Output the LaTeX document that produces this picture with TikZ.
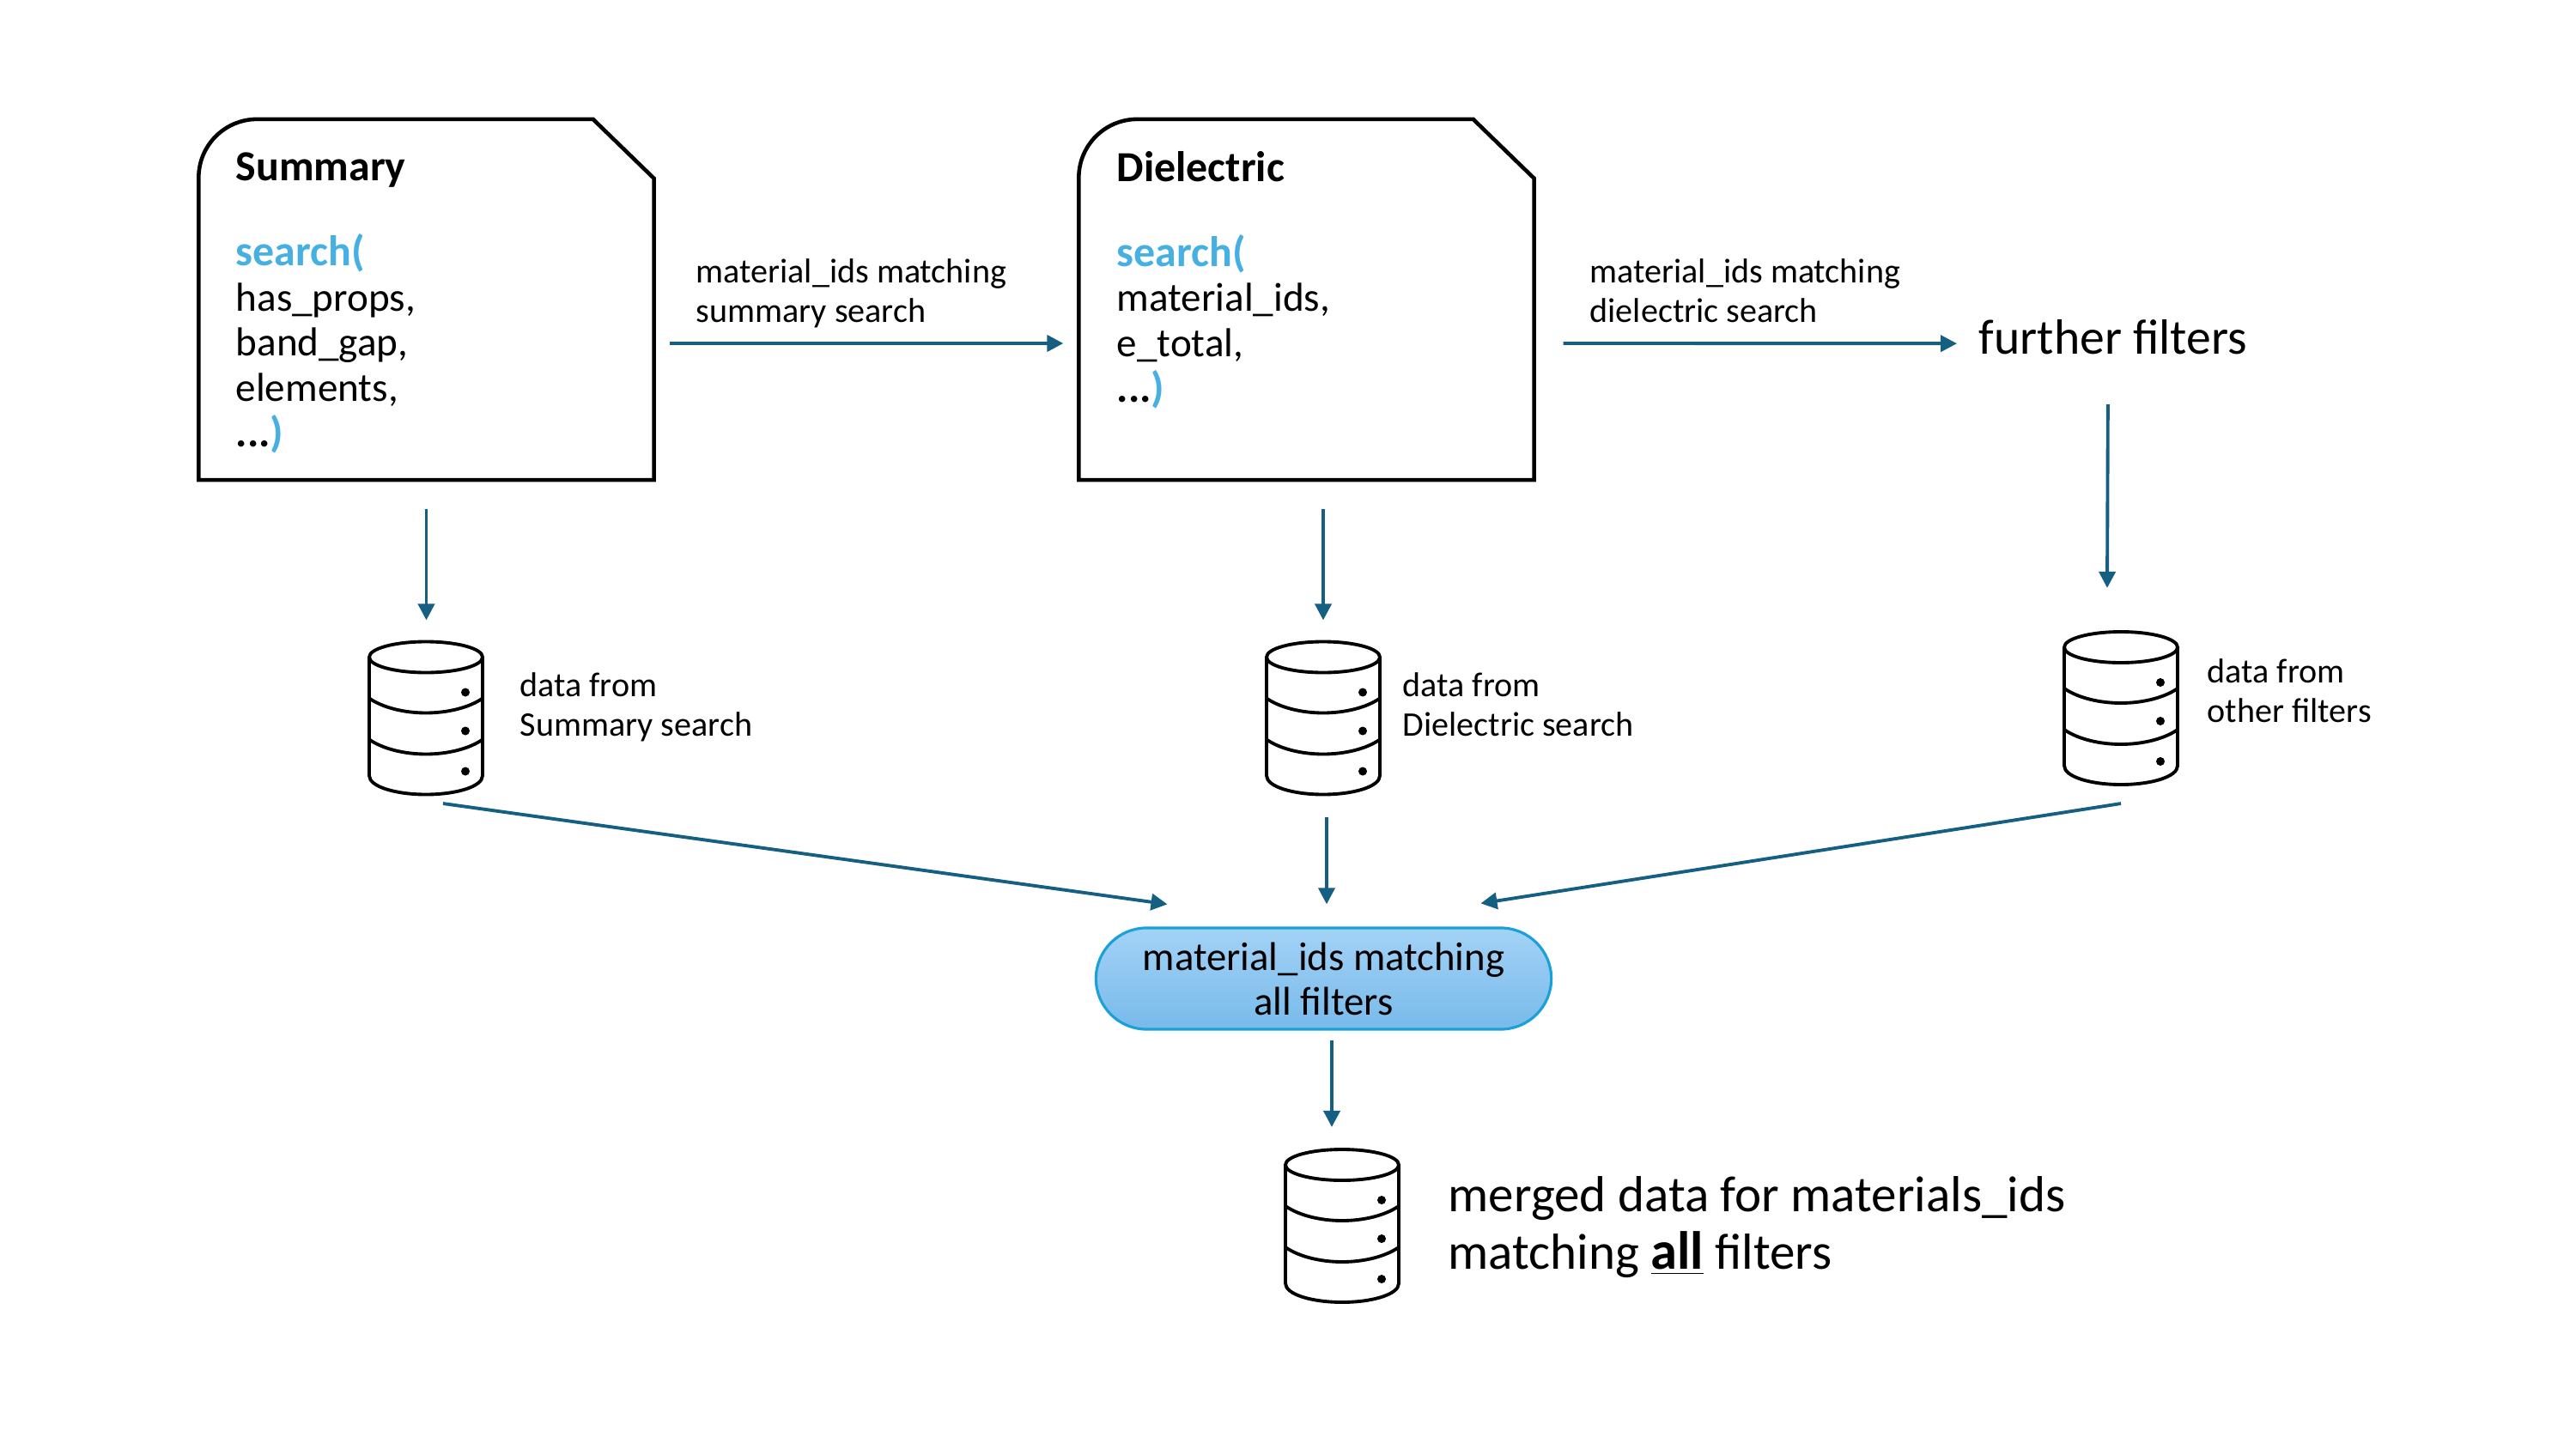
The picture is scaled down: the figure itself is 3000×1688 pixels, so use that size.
\documentclass[tikz,border=0pt]{standalone}
\usepackage{fontspec}
\setmainfont{Carlito}
\usepackage{xcolor}
\usetikzlibrary{calc,arrows.meta}
\definecolor{flowblue}{HTML}{156082}
\definecolor{callblue}{HTML}{45B0E1}
\definecolor{pilledge}{HTML}{1BA1D8}
\definecolor{pilltop}{HTML}{A3D2F6}
\definecolor{pillbot}{HTML}{78BAEA}
\newcommand{\cardb}[1]{{\fontsize{14.2}{14.95}\selectfont\bfseries #1}}
\tikzset{
  flow/.style={draw=flowblue, line width=1.1pt, -{Triangle[length=0.19cm,width=0.19cm]}},
  cardhold/.style={inner sep=0pt, outer sep=0pt, minimum width=5.3cm, minimum height=4.2cm},
  cardedge/.style={draw=black, line width=1.3pt},
  dbhold/.style={inner sep=0pt, outer sep=0pt, minimum width=1.32cm, minimum height=1.78cm},
  cardtxt/.style={anchor=base west, align=left, inner sep=0pt, font=\fontsize{13.4}{14.95}\selectfont},
  note/.style={anchor=base west, align=left, inner sep=0pt, font=\fontsize{11.4}{12.8}\selectfont},
  bignote/.style={anchor=base west, align=left, inner sep=0pt, font=\fontsize{16.8}{19}\selectfont},
  furthertxt/.style={anchor=base west, inner sep=0pt, font=\fontsize{16.4}{19}\selectfont},
  pillbox/.style={draw=pilledge, line width=0.9pt, rounded corners=0.59cm, top color=pilltop, bottom color=pillbot,
    minimum width=5.3cm, minimum height=1.18cm, inner sep=0pt, align=center, font=\fontsize{13.3}{14.8}\selectfont},
  dbstack/.pic={
    \draw[line width=1.1pt] (0,-71) ellipse (66 and 18);
    \draw[line width=1.1pt, line join=round] (-66,-71) -- (-66,67) .. controls (-66,80) and (-35,89) .. (0,89)
      .. controls (35,89) and (66,80) .. (66,67) -- (66,-71);
    \foreach \yy in {-23,25} {
      \draw[line width=1.1pt] (-66,\yy) .. controls (-50,\yy+11) and (-25,\yy+17) .. (0,\yy+17)
        .. controls (25,\yy+17) and (50,\yy+11) .. (66,\yy);
    }
    \foreach \yy in {-30,15,62} {
      \fill (46,\yy) circle (5);
    }
  },
}
\begin{document}
\begin{tikzpicture}[x=0.01cm,y=-0.01cm]
  \useasboundingbox (0,0) rectangle (3000,1688);

  % cards
  \node[cardhold] (sumcard) at (496.5,349) {};
  \node[cardhold] (dielcard) at (1521.5,349) {};
  \foreach \c in {sumcard,dielcard} {
    \draw[cardedge] (\c.south west) [rounded corners=0.68cm] -- (\c.north west) [sharp corners]
      -- ($(\c.north east)+(-71,0)$) -- ($(\c.north east)+(0,69)$) -- (\c.south east) -- cycle;
  }
  \node[cardtxt] (sumtxt) at (274,520) {\cardb{Summary}\\[13.2pt]
    \textcolor{callblue}{\cardb{search(}}\\has\_props,\\band\_gap,\\elements,\\\cardb{...}\textcolor{callblue}{\cardb{)}}};
  \node[cardtxt] (dieltxt) at (1300,468) {\cardb{Dielectric}\\[13.2pt]
    \textcolor{callblue}{\cardb{search(}}\\material\_ids,\\e\_total,\\\cardb{...}\textcolor{callblue}{\cardb{)}}};

  % databases
  \node[dbhold] (dbsum) at (496,836.5) {};
  \node[dbhold] (dbdiel) at (1541,836.5) {};
  \node[dbhold] (dbother) at (2470,825) {};
  \node[dbhold] (dbmerged) at (1563,1428) {};
  \foreach \d in {dbsum,dbdiel,dbother,dbmerged} {
    \pic at (\d) {dbstack};
  }

  \node[pillbox] (pill) at (1541.5,1140) {material\_ids matching\\all filters};
  \node[furthertxt] (further) at (2304,412) {further filters};

  % labels
  \node[note] (lab1) at (810,375) {material\_ids matching\\summary search};
  \node[note] (lab2) at (1851,375) {material\_ids matching\\dielectric search};
  \node[note] (lab3) at (605,857) {data from\\Summary search};
  \node[note] (lab4) at (1633,857) {data from\\Dielectric search};
  \node[note] (lab5) at (2570,841) {data from\\other filters};
  \node[bignote] (lab6) at (1686,1478) {merged data for materials\_ids\\matching \underline{{\fontsize{17.8}{19}\selectfont\bfseries all}} filters};

  % arrows
  \draw[flow] ($(sumcard.east)+(18,51)$) -- ($(dielcard.west)+(-18,51)$);
  \draw[flow] ($(dielcard.east)+(34,51)$) -- ($(further.west)+(-25,8)$);
  \draw[flow] ($(sumcard.south)+(0,34)$) -- ($(dbsum.north)+(0.5,-25)$);
  \draw[flow] ($(dielcard.south)+(19.5,34)$) -- ($(dbdiel.north)+(0,-25)$);
  \draw[flow] ($(further.south)+(-6,58)$) -- ($(dbother.north)+(-16,-51)$);
  \draw[flow] ($(dbsum.south)+(20,10.5)$) -- ($(pill.north)+(-182,-26)$);
  \draw[flow] ($(dbdiel.south)+(4,26)$) -- ($(pill.north)+(3.5,-26)$);
  \draw[flow] ($(dbother.south)+(0,22)$) -- ($(pill.north)+(183,-27)$);
  \draw[flow] ($(pill.south)+(9.5,11)$) -- ($(dbmerged.north)+(-12,-26)$);
\end{tikzpicture}
\end{document}
